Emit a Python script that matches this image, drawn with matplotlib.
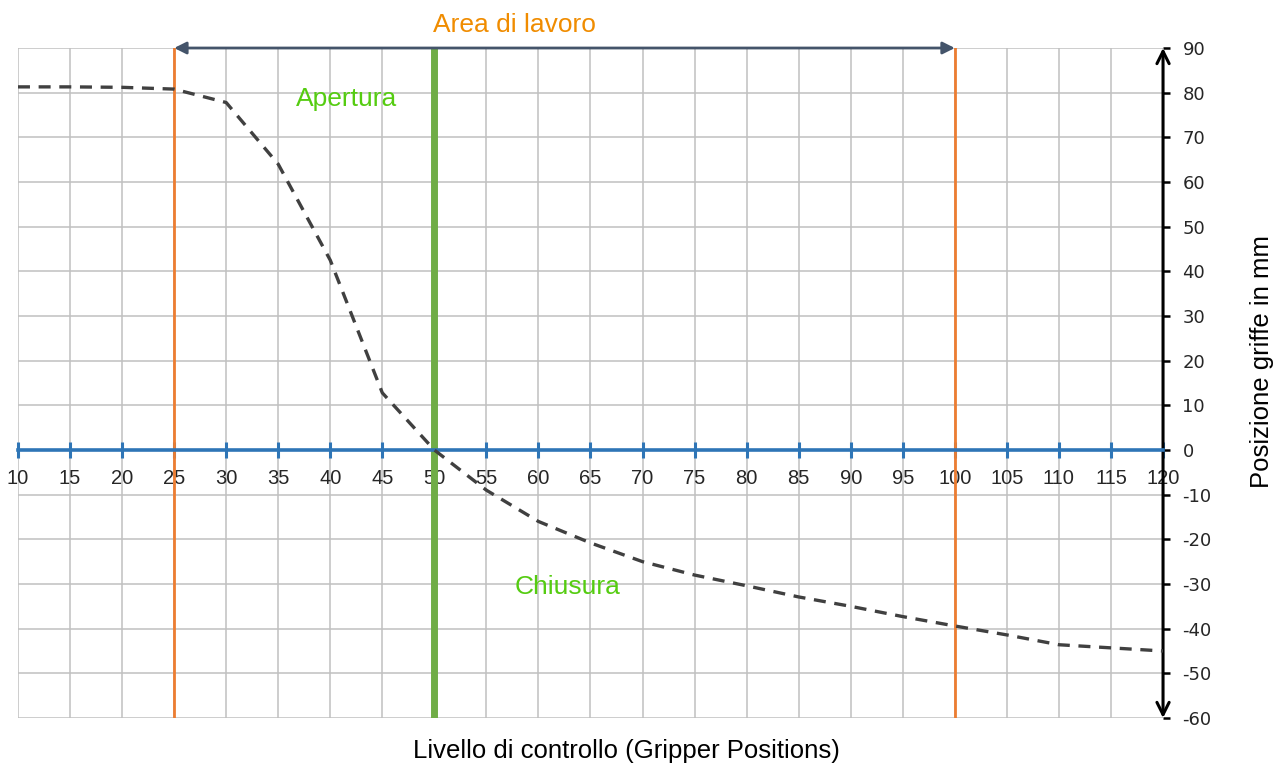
import numpy as np
import matplotlib
matplotlib.use("Agg")
import matplotlib.pyplot as plt

# data
livello = [10, 15, 20, 25, 30, 35, 40, 45, 50, 55, 60, 65, 70, 75, 80,
           85, 90, 95, 100, 105, 110, 115, 120]
posizione = [81.3, 81.3, 81.2, 80.8, 77.8, 64.0, 42.5, 12.8, 0.0, -9.0,
             -16.0, -20.8, -25.0, -28.0, -30.4, -32.9, -35.0, -37.3,
             -39.4, -41.4, -43.6, -44.3, -45.0]
x_ticks = list(range(10, 121, 5))
y_ticks = list(range(-60, 91, 10))
area_lavoro = [25, 100]
punto_zero = 50

plt.rcParams['font.family'] = ['Liberation Sans', 'DejaVu Sans']
plt.rcParams['axes.unicode_minus'] = False

fig = plt.figure(figsize=(12.74, 7.67), dpi=100)
ax = fig.add_axes([0.0141, 0.0639, 0.8988, 0.8735])

ax.set_xlim(10, 120)
ax.set_ylim(-60, 90)

# grid
ax.set_xticks(x_ticks)
ax.set_yticks(y_ticks)
ax.grid(True, color='#c0c0c0', linewidth=1.1)
ax.set_axisbelow(True)

for s in ['top', 'left', 'right']:
    ax.spines[s].set_visible(False)

# blue x axis through zero
ax.spines['bottom'].set_position(('data', 0))
ax.spines['bottom'].set_color('#2e75b6')
ax.spines['bottom'].set_linewidth(2.6)
ax.spines['bottom'].set_zorder(3)
ax.tick_params(axis='x', direction='inout', length=11, width=2.2,
               color='#2e75b6', labelsize=14.5, labelcolor='#262626', pad=8)
ax.set_xticklabels([str(v) for v in x_ticks])

# right y axis
ax.yaxis.tick_right()
ax.tick_params(axis='y', direction='out', length=5, width=1.8, color='black',
               labelsize=13, labelcolor='#262626', pad=9)
for lab in ax.get_yticklabels():
    lab.set_family('DejaVu Sans')
ax.annotate('', xy=(120, 90), xytext=(120, -60),
            arrowprops=dict(arrowstyle='<->', color='black', lw=2.2,
                            mutation_scale=22, shrinkA=0, shrinkB=0),
            annotation_clip=False)

# vertical markers
for xv in area_lavoro:
    ax.axvline(xv, color='#ed7d31', linewidth=2, zorder=2)
ax.axvline(punto_zero, color='#70ad47', linewidth=5, zorder=2)

# curve
ax.plot(livello, posizione, color='#404040', linewidth=2.4,
        dashes=(3.6, 2.6), zorder=4)

# working area arrow
ax.annotate('', xy=(area_lavoro[1], 90), xytext=(area_lavoro[0], 90),
            arrowprops=dict(arrowstyle='<|-|>', color='#44546a', lw=2,
                            mutation_scale=18, shrinkA=0, shrinkB=0),
            annotation_clip=False, zorder=5)
ax.text(57.7, 95.2, 'Area di lavoro', color='#f08c00', fontsize=19,
        ha='center', va='center', clip_on=False)

ax.text(41.6, 78.6, 'Apertura', color='#55cc11', fontsize=19,
        ha='center', va='center')
ax.text(62.8, -30.6, 'Chiusura', color='#55cc11', fontsize=19,
        ha='center', va='center')

fig.text(0.492, 0.021, 'Livello di controllo (Gripper Positions)',
         fontsize=18.5, ha='center', va='center', color='black')
fig.text(0.9905, 0.529, 'Posizione griffe in mm', fontsize=18.5,
         rotation=90, ha='center', va='center', color='black')

fig.savefig('out.png', dpi=100)
